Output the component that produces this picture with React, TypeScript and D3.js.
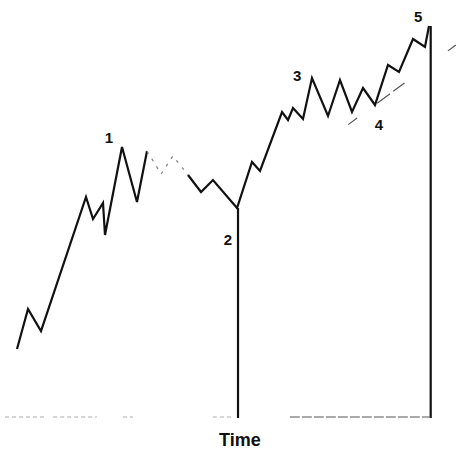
import React from "react";
import * as d3 from "d3";

// Wave path (time, price) in chart units
const waveTime = [2.67, 5.11, 8, 18, 19.56, 21.78, 22.22, 26, 29.33, 31.56];
const wavePrice = [17, 27, 21.5, 55, 49.5, 53.5, 45.5, 67.5, 53.75, 66.5];

const hiddenTime = [31.56, 34.7, 37.3, 40.67];
const hiddenPrice = [66.5, 60.75, 65.25, 60.5];

const wave2Time = [40.67, 43.56, 46.22, 51.56, 54.89, 56.67, 61.56, 62.89, 64, 66.22, 68.22, 71.78, 74.44, 77.11, 79.56, 82.22, 85.11, 87.56, 90.67, 93.33, 94.22];
const wave2Price = [60.5, 56.25, 59.25, 52.25, 63.75, 61.5, 76.25, 74.25, 77.25, 74.5, 84.75, 75.25, 84.25, 76.25, 82.25, 78, 88, 86.25, 94.5, 92.5, 97.75];

// Vertical time markers at waves 2 and 5
const markerTime = [51.78, 94.6];
const markerPrice = [52.25, 97.75];

// Trendline through wave 4
const trendTime = [75.56, 100.2];
const trendPrice = [72.5, 93];

// Baseline visible segments [start, end]
const baseStart = [0, 10.7, 26.2, 46.2, 63.3];
const baseEnd = [9.3, 20.4, 28.4, 50.7, 94.6];

const labelText = ["1", "2", "3", "4", "5"];
const labelTime = [23.1, 49.56, 64.9, 83.1, 91.8];
const labelPrice = [68.5, 43, 84, 71.75, 98.75];

const axisTitle = "Time";
const axisTitleTime = 52.2;

export default function App() {
  const W = 456, H = 455;
  const x = d3.scaleLinear().domain([0, 100]).range([5, 455]);
  const y = d3.scaleLinear().domain([0, 100]).range([417, 17]);
  const line = d3.line<[number, number]>().x(d => x(d[0])).y(d => y(d[1]));
  const zip = (a: number[], b: number[]) => a.map((v, i) => [v, b[i]] as [number, number]);
  const font = "'Liberation Sans', Arial, sans-serif";
  return (
    <svg width={W} height={H} style={{ position: "absolute", left: 0, top: 0, background: "#fff" }}>
      <path d={line(zip(waveTime, wavePrice)) || ""} fill="none" stroke="#111" strokeWidth={2.2} strokeLinejoin="miter" />
      <path d={line(zip(hiddenTime, hiddenPrice)) || ""} fill="none" stroke="#888" strokeWidth={1.3} strokeDasharray="3,6" />
      <path d={line(zip(wave2Time, wave2Price)) || ""} fill="none" stroke="#111" strokeWidth={2.2} strokeLinejoin="miter" />
      {markerTime.map((t, i) => (
        <line key={i} x1={x(t)} x2={x(t)} y1={y(markerPrice[i])} y2={y(0) + 1} stroke="#111" strokeWidth={2.2} />
      ))}
      <path d={line(zip(trendTime, trendPrice)) || ""} fill="none" stroke="#555" strokeWidth={1.2} strokeDasharray="0,4,11,25,16,4,14,54,10" />
      {baseStart.map((s, i) => (
        <line key={i} x1={x(s)} x2={x(baseEnd[i])} y1={y(0)} y2={y(0)} stroke={i === 4 ? "#555" : "#aaa"} strokeWidth={1.2} strokeDasharray={i === 4 ? "10,2" : "4,3"} />
      ))}
      {labelText.map((t, i) => (
        <text key={t} x={x(labelTime[i])} y={y(labelPrice[i])} textAnchor="middle" fontFamily={font} fontWeight="bold" fontSize={15} fill="#111">{t}</text>
      ))}
      <text x={x(axisTitleTime)} y={446} textAnchor="middle" fontFamily={font} fontWeight="bold" fontSize={18} fill="#111">{axisTitle}</text>
    </svg>
  );
}
